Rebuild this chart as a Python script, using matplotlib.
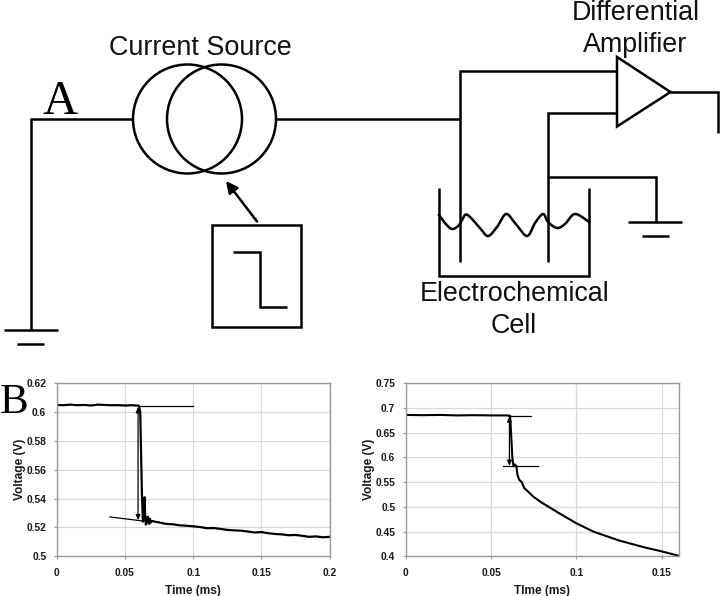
import numpy as np
import matplotlib
matplotlib.use("Agg")
import matplotlib.pyplot as plt
from matplotlib.patches import Circle, Polygon, Rectangle

# ---- chart data ----
left_time = [0, 0.005, 0.01, 0.015, 0.02, 0.025, 0.03, 0.035, 0.04, 0.045, 0.05, 0.055, 0.06, 0.0605,
             0.0612, 0.0625, 0.0632, 0.0638, 0.0643, 0.0648, 0.0653, 0.0658, 0.0663, 0.0668, 0.0673,
             0.0678, 0.0683, 0.069, 0.07, 0.072, 0.075, 0.08, 0.085, 0.09, 0.095, 0.1, 0.105, 0.11,
             0.115, 0.12, 0.125, 0.13, 0.135, 0.14, 0.145, 0.15, 0.155, 0.16, 0.165, 0.17, 0.175,
             0.18, 0.185, 0.19, 0.195, 0.2]
left_volt = [0.605, 0.6048, 0.6052, 0.6048, 0.605, 0.6046, 0.6052, 0.605, 0.6048, 0.6048, 0.6046, 0.6048,
             0.6045, 0.603, 0.6, 0.54, 0.524, 0.526, 0.541, 0.529, 0.522, 0.5235, 0.5265, 0.5275, 0.523,
             0.5225, 0.526, 0.5235, 0.5245, 0.524, 0.5235, 0.5225, 0.5222, 0.5215, 0.5212, 0.5208, 0.5203,
             0.5195, 0.5196, 0.519, 0.5183, 0.518, 0.5178, 0.5172, 0.5165, 0.5168, 0.516, 0.5155, 0.5152,
             0.5146, 0.5148, 0.5142, 0.5135, 0.5138, 0.5132, 0.5135]
left_ref_top_x = [0.06, 0.0995]
left_ref_top_y = [0.6045, 0.6045]
left_ref_slope_x = [0.039, 0.063]
left_ref_slope_y = [0.5273, 0.5245]
left_arrow_x = 0.0596
left_arrow_y = [0.6035, 0.525]

right_time = [0, 0.01, 0.02, 0.03, 0.04, 0.05, 0.06, 0.0612, 0.0625, 0.0632, 0.0638, 0.0648, 0.0655,
              0.0665, 0.068, 0.0695, 0.072, 0.075, 0.08, 0.09, 0.1, 0.11, 0.125, 0.14, 0.15, 0.16]
right_volt = [0.686, 0.6855, 0.686, 0.685, 0.6855, 0.685, 0.685, 0.684, 0.6, 0.582, 0.586, 0.583, 0.565,
              0.555, 0.55, 0.538, 0.53, 0.52, 0.508, 0.487, 0.4668, 0.45, 0.432, 0.418, 0.41, 0.401]
right_ref_top_x = [0.06, 0.0733]
right_ref_top_y = [0.684, 0.684]
right_ref_low_x = [0.0568, 0.0778]
right_ref_low_y = [0.582, 0.582]
right_arrow_x = 0.0608
right_arrow_y = [0.683, 0.583]

left_xticks = [0, 0.05, 0.1, 0.15, 0.2]
left_xlabels = ["0", "0.05", "0.1", "0.15", "0.2"]
left_yticks = [0.5, 0.52, 0.54, 0.56, 0.58, 0.6, 0.62]
left_ylabels = ["0.5", "0.52", "0.54", "0.56", "0.58", "0.6", "0.62"]
right_xticks = [0, 0.05, 0.1, 0.15]
right_xlabels = ["0", "0.05", "0.1", "0.15"]
right_yticks = [0.4, 0.45, 0.5, 0.55, 0.6, 0.65, 0.7, 0.75]
right_ylabels = ["0.4", "0.45", "0.5", "0.55", "0.6", "0.65", "0.7", "0.75"]

# ---- circuit schematic (in image pixels) ----
wires = [
    [(31, 330), (31, 119), (133, 119)],
    [(4, 330), (58, 330)],
    [(17, 344), (44, 344)],
    [(276, 119), (460, 119)],
    [(460, 262), (460, 71), (617, 71)],
    [(548, 262), (548, 113), (617, 113)],
    [(548, 177), (656, 177), (656, 222)],
    [(628, 222), (682, 222)],
    [(642, 236), (669, 236)],
    [(670, 92), (718, 92), (718, 133)],
    [(439, 188), (439, 276), (589, 276), (589, 188)],
    [(233, 252), (260, 252), (260, 307), (287, 307)],
]
circle_centers = [(187.5, 119), (221.5, 119)]
circle_radius = 54.5
triangle = [(617, 57), (670.5, 92), (617, 126.5)]
box = (212, 224.5, 89, 102.5)
arrow_tail = (257, 221.5)
arrow_head = (226, 181)
wave_x = [439, 445, 452, 459, 465, 470, 480, 488, 497, 506, 515, 527, 535, 543, 548, 557, 565, 575, 589]
wave_y = [215, 223, 229, 225, 215, 217, 228, 236, 227, 214, 223, 236, 223, 214, 222, 228, 224, 214, 222]


def smooth(xs, ys, n=12):
    p = np.column_stack([xs, ys]).astype(float)
    p = np.vstack([p[0], p, p[-1]])
    out = []
    for i in range(1, len(p) - 2):
        t = np.linspace(0, 1, n, endpoint=False)[:, None]
        a, b, c, d = p[i - 1], p[i], p[i + 1], p[i + 2]
        out.append(0.5 * (2 * b + (c - a) * t + (2 * a - 5 * b + 4 * c - d) * t ** 2
                          + (3 * b - a - 3 * c + d) * t ** 3))
    out.append(p[-2][None, :])
    return np.vstack(out)


W, H = 720, 596
plt.rcParams["font.family"] = ["Liberation Sans", "DejaVu Sans"]
fig = plt.figure(figsize=(W / 100, H / 100), dpi=100, facecolor="white")

ov = fig.add_axes([0, 0, 1, 1], zorder=0)
ov.set_xlim(0, W)
ov.set_ylim(H, 0)
ov.axis("off")
LW = 1.8
for w in wires:
    xs, ys = zip(*w)
    ov.plot(xs, ys, color="black", lw=LW, solid_joinstyle="miter", solid_capstyle="butt")
for c in circle_centers:
    ov.add_patch(Circle(c, circle_radius, fill=False, ec="black", lw=LW))
ov.add_patch(Polygon(triangle, closed=True, fill=False, ec="black", lw=LW, joinstyle="miter"))
ov.add_patch(Rectangle(box[:2], box[2], box[3], fill=False, ec="black", lw=LW))
ov.annotate("", xy=arrow_head, xytext=arrow_tail,
            arrowprops=dict(arrowstyle="-|>,head_length=0.7,head_width=0.35", color="black", lw=LW,
                            shrinkA=0, shrinkB=0))
w = smooth(wave_x, wave_y)
ov.plot(w[:, 0], w[:, 1], color="black", lw=LW)

LBL = 19.4
for s, x, y in [("Current Source", 200, 55), ("Differential", 636, 20), ("Amplifier", 635, 52),
                ("Electrochemical", 515, 301), ("Cell", 514, 333)]:
    ov.text(x, y, s, fontsize=LBL, ha="center", va="baseline", color="#111111")
ov.text(60, 114, "A", family="Liberation Serif", fontsize=35, ha="center", va="baseline", color="black")
ov.text(14, 413, "B", family="Liberation Serif", fontsize=31, ha="center", va="baseline", color="black")


def make_axes(x0, x1, y0, y1):
    ax = fig.add_axes([x0 / W, 1 - y1 / H, (x1 - x0) / W, (y1 - y0) / H], zorder=1)
    ax.patch.set_alpha(0)
    for s in ax.spines.values():
        s.set_color("#999999")
        s.set_linewidth(1.0)
    ax.grid(True, color="#d8d8d8", lw=0.9)
    ax.set_axisbelow(True)
    ax.tick_params(colors="#999999", labelcolor="#1a1a1a", length=2.5, width=0.8)
    ax.tick_params(axis="x", pad=6)
    ax.tick_params(axis="y", pad=5)
    return ax


def dress(ax, xticks, xlabels, yticks, ylabels, xlim, ylim, xlabel, ylabel_x):
    ax.set_xlim(*xlim)
    ax.set_ylim(*ylim)
    ax.set_xticks(xticks, xlabels, fontweight="bold", fontsize=7.4)
    ax.set_yticks(yticks, ylabels, fontweight="bold", fontsize=7.4)
    ax.set_xlabel(xlabel, fontweight="bold", fontsize=8.6, color="#1a1a1a", labelpad=5)
    ax.set_ylabel("Voltage (V)", fontweight="bold", fontsize=8.6, color="#1a1a1a")
    ax.yaxis.set_label_coords(ylabel_x, 0.5)


def double_arrow(ax, x, ys):
    ax.annotate("", xy=(x, ys[1]), xytext=(x, ys[0]),
                arrowprops=dict(arrowstyle="<|-|>,head_length=0.3,head_width=0.13", color="black", lw=0.9,
                                shrinkA=0, shrinkB=0))


a1 = make_axes(56.7, 329.7, 383.3, 556.3)
dress(a1, left_xticks, left_xlabels, left_yticks, left_ylabels, (0, 0.2), (0.5, 0.62), "Time (ms)", -0.112)
a1.plot(left_time, left_volt, color="black", lw=1.6, clip_on=True)
a1.plot(left_ref_top_x, left_ref_top_y, color="black", lw=0.9)
a1.plot(left_ref_slope_x, left_ref_slope_y, color="black", lw=0.9)
double_arrow(a1, left_arrow_x, left_arrow_y)

a2 = make_axes(405.7, 678.7, 383.3, 556.3)
dress(a2, right_xticks, right_xlabels, right_yticks, right_ylabels, (0, 0.16), (0.4, 0.75), "TIme (ms)", -0.112)
a2.plot(right_time, right_volt, color="black", lw=1.5)
a2.plot(right_ref_top_x, right_ref_top_y, color="black", lw=0.9)
a2.plot(right_ref_low_x, right_ref_low_y, color="black", lw=0.9)
double_arrow(a2, right_arrow_x, right_arrow_y)

fig.savefig("out.png", dpi=100, facecolor="white")
